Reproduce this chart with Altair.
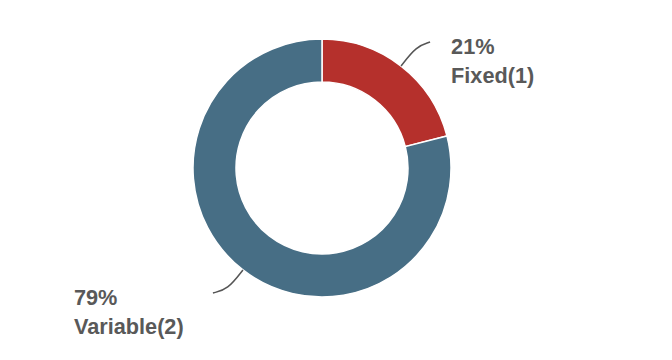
import altair as alt
import pandas as pd

categories = ["Fixed(1)", "Variable(2)"]
values = [21, 79]
colors = ["#B5302C", "#476E85"]

df = pd.DataFrame({"label": categories, "value": values, "idx": [0, 1]})

CX, CY, R_OUT, R_IN = 322, 168, 129, 86

base = alt.Chart(df).transform_joinaggregate(
    total="sum(value)"
).transform_window(
    cum="sum(value)", sort=[alt.SortField("idx")], frame=[None, 0]
).transform_calculate(
    mid="(datum.cum - datum.value/2) / datum.total * 2 * PI",
    pct="round(datum.value / datum.total * 100) + '%'",
).transform_calculate(
    sn="sin(datum.mid)", cs="cos(datum.mid)",
).transform_calculate(
    sx=f"{CX} + {R_OUT} * datum.sn",
    sy=f"{CY} - {R_OUT} * datum.cs",
).transform_calculate(
    px="datum.sx + 25 * datum.sn",
    py="datum.sy - 25 * datum.cs",
    ex="datum.sx + (datum.sn > 0 ? 29 : -30)",
    ey="datum.sy + (datum.cs > 0 ? -24 : 23)",
)

arc = alt.Chart(df).mark_arc(
    innerRadius=R_IN, outerRadius=R_OUT, stroke="white", strokeWidth=1.5
).encode(
    theta=alt.Theta("value:Q", stack=True),
    order=alt.Order("idx:Q"),
    color=alt.Color("label:N", scale=alt.Scale(domain=categories, range=colors), legend=None),
    x=alt.value(CX),
    y=alt.value(CY),
)

lines = base.transform_calculate(
    s0="0", s1="1", s2="2"
).transform_fold(
    ["s0", "s1", "s2"], as_=["step", "dummy"]
).transform_calculate(
    lx="datum.step == 's0' ? datum.sx : (datum.step == 's1' ? datum.px : datum.ex)",
    ly="datum.step == 's0' ? datum.sy : (datum.step == 's1' ? datum.py : datum.ey)",
).mark_line(interpolate="basis", color="#555555", strokeWidth=1.5).encode(
    x=alt.X("lx:Q", scale=None, axis=None),
    y=alt.Y("ly:Q", scale=None, axis=None),
    detail="label:N",
    order=alt.Order("step:N"),
)

texts = base.transform_calculate(
    tx="datum.ex + (datum.sn > 0 ? 21 : -139)",
    ty="datum.ey + 12",
    txt="datum.pct + '\\n' + datum.label",
).mark_text(
    align="left", baseline="alphabetic", lineBreak="\n", lineHeight=29,
    font="Liberation Sans", fontSize=21.7, fontWeight="bold", color="#595959",
).encode(
    x=alt.X("tx:Q", scale=None, axis=None),
    y=alt.Y("ty:Q", scale=None, axis=None),
    text="txt:N",
)

chart = alt.layer(arc, lines, texts).properties(
    width=672, height=360, autosize=alt.AutoSizeParams(type="none"), padding=0,
).configure_view(stroke=None)

chart.save("out.html", embed_options={"renderer": "svg", "actions": False})
